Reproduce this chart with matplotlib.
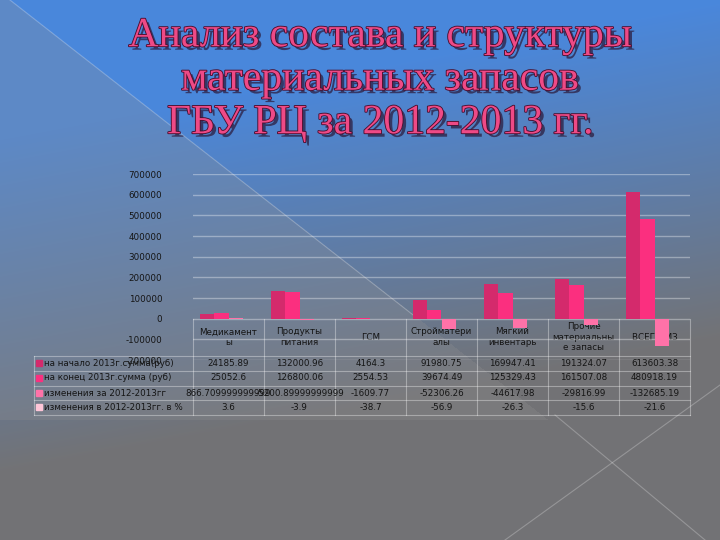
import numpy as np
import matplotlib
matplotlib.use('Agg')
import matplotlib.pyplot as plt
import matplotlib.patheffects as pe
from matplotlib.lines import Line2D
from matplotlib.transforms import blended_transform_factory

# Data
categories = ['Медикамент\nы', 'Продукты\nпитания', 'ГСМ', 'Стройматери\nалы',
              'Мягкий\nинвентарь', 'Прочие\nматериальны\nе запасы', 'ВСЕГО МЗ']
series_names = ['на начало 2013г.сумма(руб)', 'на конец 2013г.сумма (руб)',
                'изменения за 2012-2013гг', 'изменения в 2012-2013гг. в %']
start_2013 = [24185.89, 132000.96, 4164.3, 91980.75, 169947.41, 191324.07, 613603.38]
end_2013 = [25052.6, 126800.06, 2554.53, 39674.49, 125329.43, 161507.08, 480918.19]
change_abs = [866.709999999999, -5200.89999999999, -1609.77, -52306.26, -44617.98, -29816.99, -132685.19]
change_pct = [3.6, -3.9, -38.7, -56.9, -26.3, -15.6, -21.6]
yticks = [700000, 600000, 500000, 400000, 300000, 200000, 100000, 0, -100000, -200000]

series = [start_2013, end_2013, change_abs, change_pct]
colors = ['#d42a6c', '#fb2f7f', '#ff72a8', '#ffc6d8']
txt_color = '#151515'
W, H = 720, 540


def fx(px):
    return px / W


def fy(py):
    return 1 - py / H


fig = plt.figure(figsize=(7.2, 5.4), dpi=100)

# slide background: blue on top fading into grey
bg = fig.add_axes([0, 0, 1, 1], zorder=-5)
yy, xx = np.mgrid[0:H, 0:W]
blue = np.array([0.29, 0.53, 0.86])
grey = np.array([0.45, 0.45, 0.46])
t = np.clip((yy / H - 0.08 + 0.25 * (xx / W - 0.7)) / 0.62, 0, 1)[..., None]
img = blue * (1 - t) + grey * t
# greyer band left of the diagonal
left = (xx < 10 + yy / 0.78)[..., None] & (yy < 420)[..., None]
img = np.where(left, img * 0.72 + grey * 0.28 + 0.03, img)
bg.imshow(np.clip(img, 0, 1), aspect='auto', extent=[0, W, H, 0])
for x0, y0, x1, y1 in [(10, 0, 417, 318), (555, 415, 705, 540), (505, 540, 720, 385)]:
    bg.plot([x0, x1], [y0, y1], color='white', alpha=0.25, lw=0.8)
bg.set_xlim(0, W)
bg.set_ylim(H, 0)
bg.axis('off')

# title
title_lines = ['Анализ состава и структуры', 'материальных запасов', 'ГБУ РЦ за 2012-2013 гг.']
for i, line in enumerate(title_lines):
    fig.text(fx(380), fy(36 + 43.5 * i), line, ha='center', va='center',
             family='Liberation Serif', fontsize=30, color='#ee4a86',
             path_effects=[pe.SimplePatchShadow(offset=(2.5, -2.5), shadow_rgbFace='#2a1838', alpha=0.7),
                           pe.Stroke(linewidth=1.3, foreground='#4a0f30'), pe.Normal()])

# chart
ax = fig.add_axes([fx(193), fy(360), fx(690) - fx(193), fy(174) - fy(360)])
ax.patch.set_alpha(0)
x = np.arange(len(categories))
bw = 0.2
for k, vals in enumerate(series):
    ax.bar(x + (k - 1.5) * bw, vals, bw, color=colors[k], zorder=3)
ax.set_xlim(-0.5, len(categories) - 0.5)
ax.set_ylim(-200000, 700000)
ax.set_yticks(yticks)
ax.set_yticklabels([str(v) for v in yticks], fontsize=6.3, color=txt_color, family='DejaVu Sans')
ax.tick_params(axis='y', length=0, pad=22)
ax.set_xticks([])
ax.grid(axis='y', color='white', alpha=0.35, lw=1, zorder=0)
for s in ax.spines.values():
    s.set_visible(False)

# data table under the chart
bt = blended_transform_factory(ax.transData, fig.transFigure)
line_kw = dict(color='white', alpha=0.35, lw=0.8)
row_y = [363, 378, 393, 407]
row_edges = [356, 371, 386, 400, 415]
for i, cat in enumerate(categories):
    ax.text(i, fy(337), cat, transform=bt, ha='center', va='center', fontsize=6.3,
            color=txt_color, linespacing=1.15, zorder=1, clip_on=False)
for xb in np.arange(len(categories) + 1) - 0.5:
    ax.add_line(Line2D([xb, xb], [fy(319), fy(415)], transform=bt, clip_on=False, **line_kw))
for ye in row_edges:
    fig.add_artist(Line2D([fx(34), fx(690)], [fy(ye), fy(ye)], **line_kw))
fig.add_artist(Line2D([fx(34), fx(34)], [fy(356), fy(415)], **line_kw))

for r, (name, vals) in enumerate(zip(series_names, series)):
    fig.add_artist(plt.Rectangle((fx(36), fy(row_y[r] + 3)), fx(6), fy(0) - fy(6),
                                 color=colors[r], transform=fig.transFigure))
    fig.text(fx(44), fy(row_y[r]), name, ha='left', va='center', fontsize=6.3, color=txt_color)
    for i, v in enumerate(vals):
        ax.text(i, fy(row_y[r]), str(v), transform=bt, ha='center', va='center',
                fontsize=6.3, color=txt_color, clip_on=False)

fig.savefig('out.png', dpi=100)
